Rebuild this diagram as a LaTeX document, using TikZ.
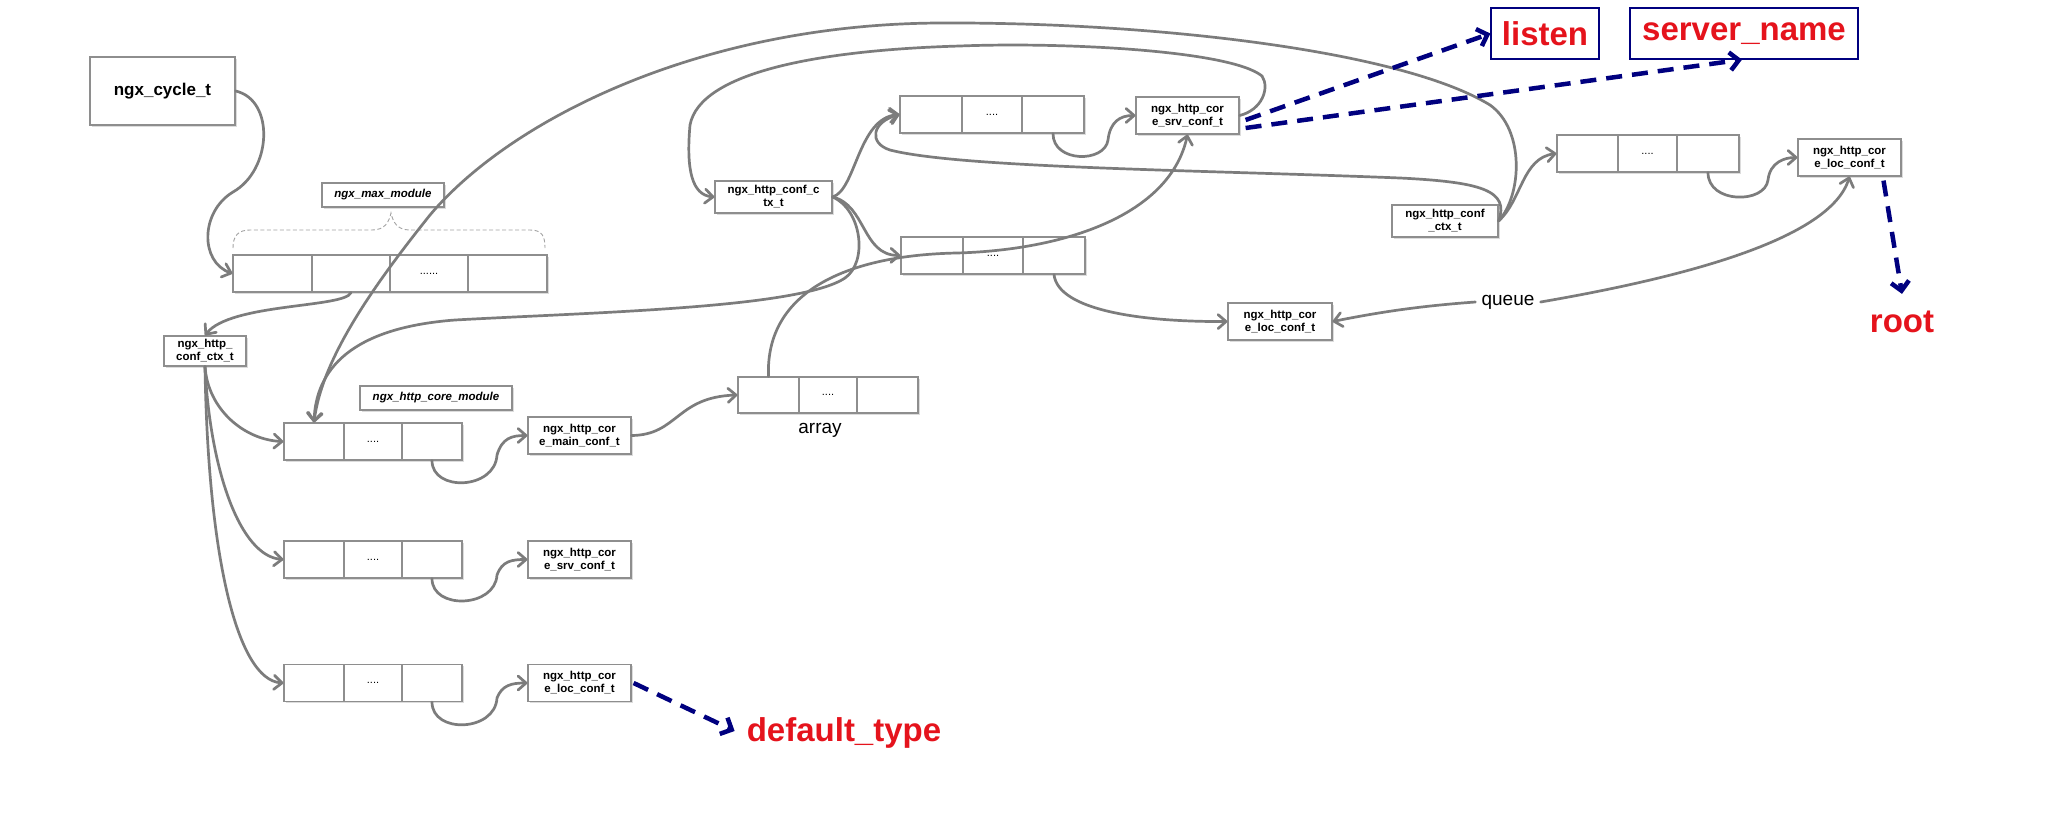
\documentclass[tikz,border=0pt]{standalone}
\usepackage{fontspec}
\setmainfont{Liberation Sans}
\usetikzlibrary{arrows.meta,shadows}
\definecolor{lgray}{HTML}{7C7C7C}
\definecolor{bgray}{HTML}{8E8E8E}
\definecolor{navyb}{HTML}{00007F}
\definecolor{redt}{HTML}{E5131C}
\begin{document}
\begin{tikzpicture}[x=1pt,y=-1pt,
  box/.style={draw=bgray, line width=1.2pt, fill=white, inner sep=1pt,
    drop shadow={shadow xshift=1.8pt, shadow yshift=-1.8pt, opacity=0.3, fill=black!45}},
  small/.style={font=\bfseries\fontsize{11.5}{13}\selectfont, align=center},
  modlbl/.style={font=\bfseries\itshape\fontsize{11.5}{13}\selectfont},
  cell/.style={box, font=\fontsize{11}{13}\selectfont},
  conn/.style={draw=lgray, line width=2.7pt, line cap=round,
    -{Straight Barb[length=8pt,width=14pt,round]}},
  dsh/.style={draw=navyb, line width=4.5pt, dash pattern=on 16pt off 10pt,
    -{Straight Barb[length=9pt,width=18pt]}},
  redlbl/.style={text=redt, font=\bfseries\fontsize{33}{36}\selectfont, inner sep=0pt},
  bluebox/.style={draw=navyb, line width=1.3pt, fill=white, inner sep=0pt},
  brace/.style={draw=lgray!70, line width=0.9pt, dash pattern=on 4pt off 2.5pt},
  biglbl/.style={font=\fontsize{19}{22}\selectfont, fill=white, inner sep=6pt}
]
\fill[white] (0,0) rectangle (2048,819);
\useasboundingbox (0,0) rectangle (2048,819);

% ---------- left part ----------
\node[box, minimum width=145pt, minimum height=68pt, font=\bfseries\fontsize{17}{20}\selectfont] (cycle) at (162.5,91) {ngx\_cycle\_t};
\node[box, modlbl, minimum width=122pt, minimum height=24pt] (maxmod) at (383,195) {ngx\_max\_module};
\draw[brace] (233,248) .. controls (233,236) and (238,230) .. (250,230) -- (372,230)
  .. controls (385,230) and (389,222) .. (391,213) .. controls (393,222) and (397,230) .. (410,230)
  -- (530,230) .. controls (542,230) and (545,236) .. (545,248);
\node[cell, minimum width=79pt, minimum height=37pt] (a4a) at (272.5,273.5) {};
\node[cell, minimum width=78pt, minimum height=37pt] (a4b) at (351,273.5) {};
\node[cell, minimum width=78pt, minimum height=37pt] (a4c) at (429,273.5) {......};
\node[cell, minimum width=79pt, minimum height=37pt] (a4d) at (507.5,273.5) {};
\node[box, small, minimum width=82pt, minimum height=30pt] (ctx1) at (205,351) {ngx\_http\_\\conf\_ctx\_t};
\node[box, modlbl, minimum width=152pt, minimum height=24pt] (coremod) at (436,398) {ngx\_http\_core\_module};

% rows
\node[cell, minimum width=60pt, minimum height=37pt] (r1a) at (314,441.5) {};
\node[cell, minimum width=58pt, minimum height=37pt] (r1b) at (373,441.5) {....};
\node[cell, minimum width=60pt, minimum height=37pt] (r1c) at (432,441.5) {};
\node[cell, minimum width=60pt, minimum height=37pt] (r2a) at (314,559.5) {};
\node[cell, minimum width=58pt, minimum height=37pt] (r2b) at (373,559.5) {....};
\node[cell, minimum width=60pt, minimum height=37pt] (r2c) at (432,559.5) {};
\node[cell, minimum width=60pt, minimum height=37pt] (r3a) at (314,683) {};
\node[cell, minimum width=58pt, minimum height=37pt] (r3b) at (373,683) {....};
\node[cell, minimum width=60pt, minimum height=37pt] (r3c) at (432,683) {};

\node[box, small, minimum width=103pt, minimum height=37pt] (main) at (579.5,435.5) {ngx\_http\_cor\\e\_main\_conf\_t};
\node[box, small, minimum width=103pt, minimum height=37pt] (srv1) at (579.5,559.5) {ngx\_http\_cor\\e\_srv\_conf\_t};
\node[box, small, minimum width=103pt, minimum height=37pt] (loc1) at (579.5,683) {ngx\_http\_cor\\e\_loc\_conf\_t};

% array
\node[cell, minimum width=61pt, minimum height=36pt] (aAa) at (768.5,395) {};
\node[cell, minimum width=58pt, minimum height=36pt] (aAb) at (828,395) {....};
\node[cell, minimum width=61pt, minimum height=36pt] (aAc) at (887.5,395) {};
\node[font=\fontsize{19}{22}\selectfont, inner sep=2pt] (arrlbl) at (820,430) {array};

\node[redlbl] (dt) at (844,733) {default\_type};

% ---------- middle / right part ----------
\node[box, small, minimum width=117pt, minimum height=32pt] (ctxc) at (773.5,197) {ngx\_http\_conf\_c\\tx\_t};
\node[cell, minimum width=62pt, minimum height=37pt] (aUa) at (931,114.5) {};
\node[cell, minimum width=60pt, minimum height=37pt] (aUb) at (992,114.5) {....};
\node[cell, minimum width=62pt, minimum height=37pt] (aUc) at (1053,114.5) {};
\node[box, small, minimum width=103pt, minimum height=37pt] (srvU) at (1187.5,115.5) {ngx\_http\_cor\\e\_srv\_conf\_t};
\node[cell, minimum width=62pt, minimum height=37pt] (aMa) at (932,255.5) {};
\node[cell, minimum width=60pt, minimum height=37pt] (aMb) at (993,255.5) {....};
\node[cell, minimum width=62pt, minimum height=37pt] (aMc) at (1054,255.5) {};
\node[box, small, minimum width=104pt, minimum height=37pt] (locM) at (1280,321.5) {ngx\_http\_cor\\e\_loc\_conf\_t};
\node[box, small, minimum width=106pt, minimum height=32pt] (ctxR) at (1445,221) {ngx\_http\_conf\\\_ctx\_t};
\node[cell, minimum width=61pt, minimum height=37pt] (aRa) at (1587.5,153.5) {};
\node[cell, minimum width=59pt, minimum height=37pt] (aRb) at (1647.5,153.5) {....};
\node[cell, minimum width=62pt, minimum height=37pt] (aRc) at (1708,153.5) {};
\node[box, small, minimum width=103pt, minimum height=37pt] (locR) at (1849.5,157.5) {ngx\_http\_cor\\e\_loc\_conf\_t};

\node[bluebox, minimum width=108pt, minimum height=51pt] (listen) at (1545,33.5) {};
\node[redlbl] (listentxt) at (listen.center) {listen};
\node[bluebox, minimum width=228pt, minimum height=51pt] (sname) at (1744,33.5) {};
\node[redlbl] (snametxt) at (sname.center) {server\_name};
\node[redlbl] (root) at (1902,322) {root};
\node[biglbl] (queue) at (1508,302) {queue};

% ---------- connectors ----------
\draw[conn] (cycle.east) .. controls (275,100) and (272,170) .. (233,192)
  .. controls (200,212) and (200,262) .. (a4a.west);
\draw[conn] (a4b.south) .. controls (345,308) and (230,303) .. (ctx1.north);
\draw[conn] (ctx1.south) .. controls (208,410) and (245,440) .. (r1a.west);
\draw[conn] (ctx1.south) .. controls (210,470) and (240,556) .. (r2a.west);
\draw[conn] (ctx1.south) .. controls (208,560) and (238,680) .. (r3a.west);
\draw[conn] (r1c.south) .. controls (432,492) and (495,490) .. (497,455)
  .. controls (502,438) and (512,435.5) .. (main.west);
\draw[conn] (r2c.south) .. controls (432,610) and (495,608) .. (497,575)
  .. controls (502,561) and (512,559.5) .. (srv1.west);
\draw[conn] (r3c.south) .. controls (432,734) and (495,732) .. (497,698)
  .. controls (502,685) and (512,683) .. (loc1.west);
\draw[conn] (main.east) .. controls (678,435) and (676,397) .. (aAa.west);
\draw[conn] (aAa.north) .. controls (765,290) and (850,255) .. (957,253)
  .. controls (1065,250) and (1170,215) .. (srvU.south);
\draw[dsh] ([xshift=2pt]loc1.east) -- ([xshift=-12pt,yshift=2pt]dt.west);

\draw[conn] (ctxc.east) .. controls (856,190) and (858,118) .. (aUa.west);
\draw[conn] (ctxc.east) .. controls (866,205) and (862,255) .. (aMa.west);
\draw[conn] (ctxc.east) .. controls (862,210) and (868,262) .. (845,278)
  .. controls (800,308) and (600,312) .. (455,320)
  .. controls (350,328) and (316,370) .. (r1a.north);
\draw[conn] (srvU.east) .. controls (1262,110) and (1270,88) .. (1262,76)
  .. controls (1230,50) and (1060,42) .. (960,46)
  .. controls (820,50) and (700,72) .. (690,125)
  .. controls (686,170) and (692,195) .. (ctxc.west);
\draw[conn] (aUc.south) .. controls (1053,163) and (1105,163) .. (1108,140)
  .. controls (1110,122) and (1120,115.5) .. (srvU.west);
\draw[conn] (ctxR.east) .. controls (1522,195) and (1525,130) .. (1490,105)
  .. controls (1400,50) and (1150,22) .. (940,23)
  .. controls (700,24) and (510,120) .. (430,215)
  .. controls (370,290) and (322,360) .. (r1a.north);
\draw[conn] (ctxR.east) .. controls (1510,190) and (1480,182) .. (1400,178)
  .. controls (1200,170) and (960,168) .. (890,150)
  .. controls (868,143) and (872,122) .. (aUa.west);
\draw[conn] (ctxR.east) .. controls (1522,200) and (1522,158) .. (aRa.west);
\draw[conn] (aMc.south) .. controls (1058,310) and (1140,322) .. (locM.west);
\draw[conn] (aRc.south) .. controls (1708,204) and (1765,204) .. (1768,180)
  .. controls (1770,162) and (1785,157.5) .. (locR.west);
\draw[conn] (queue.west) .. controls (1420,306) and (1380,312) .. (locM.east);
\draw[conn] (queue.east) .. controls (1680,278) and (1830,240) .. (locR.south);

\draw[dsh] ([xshift=6pt,yshift=-4.5pt]srvU.east) -- (listen.west);
\draw[dsh] ([xshift=6pt,yshift=-12.5pt]srvU.east) -- ([xshift=-2pt]sname.south);
\draw[dsh] ([xshift=34pt,yshift=-4pt]locR.south) -- ([yshift=17pt]root.north);
\end{tikzpicture}
\end{document}
